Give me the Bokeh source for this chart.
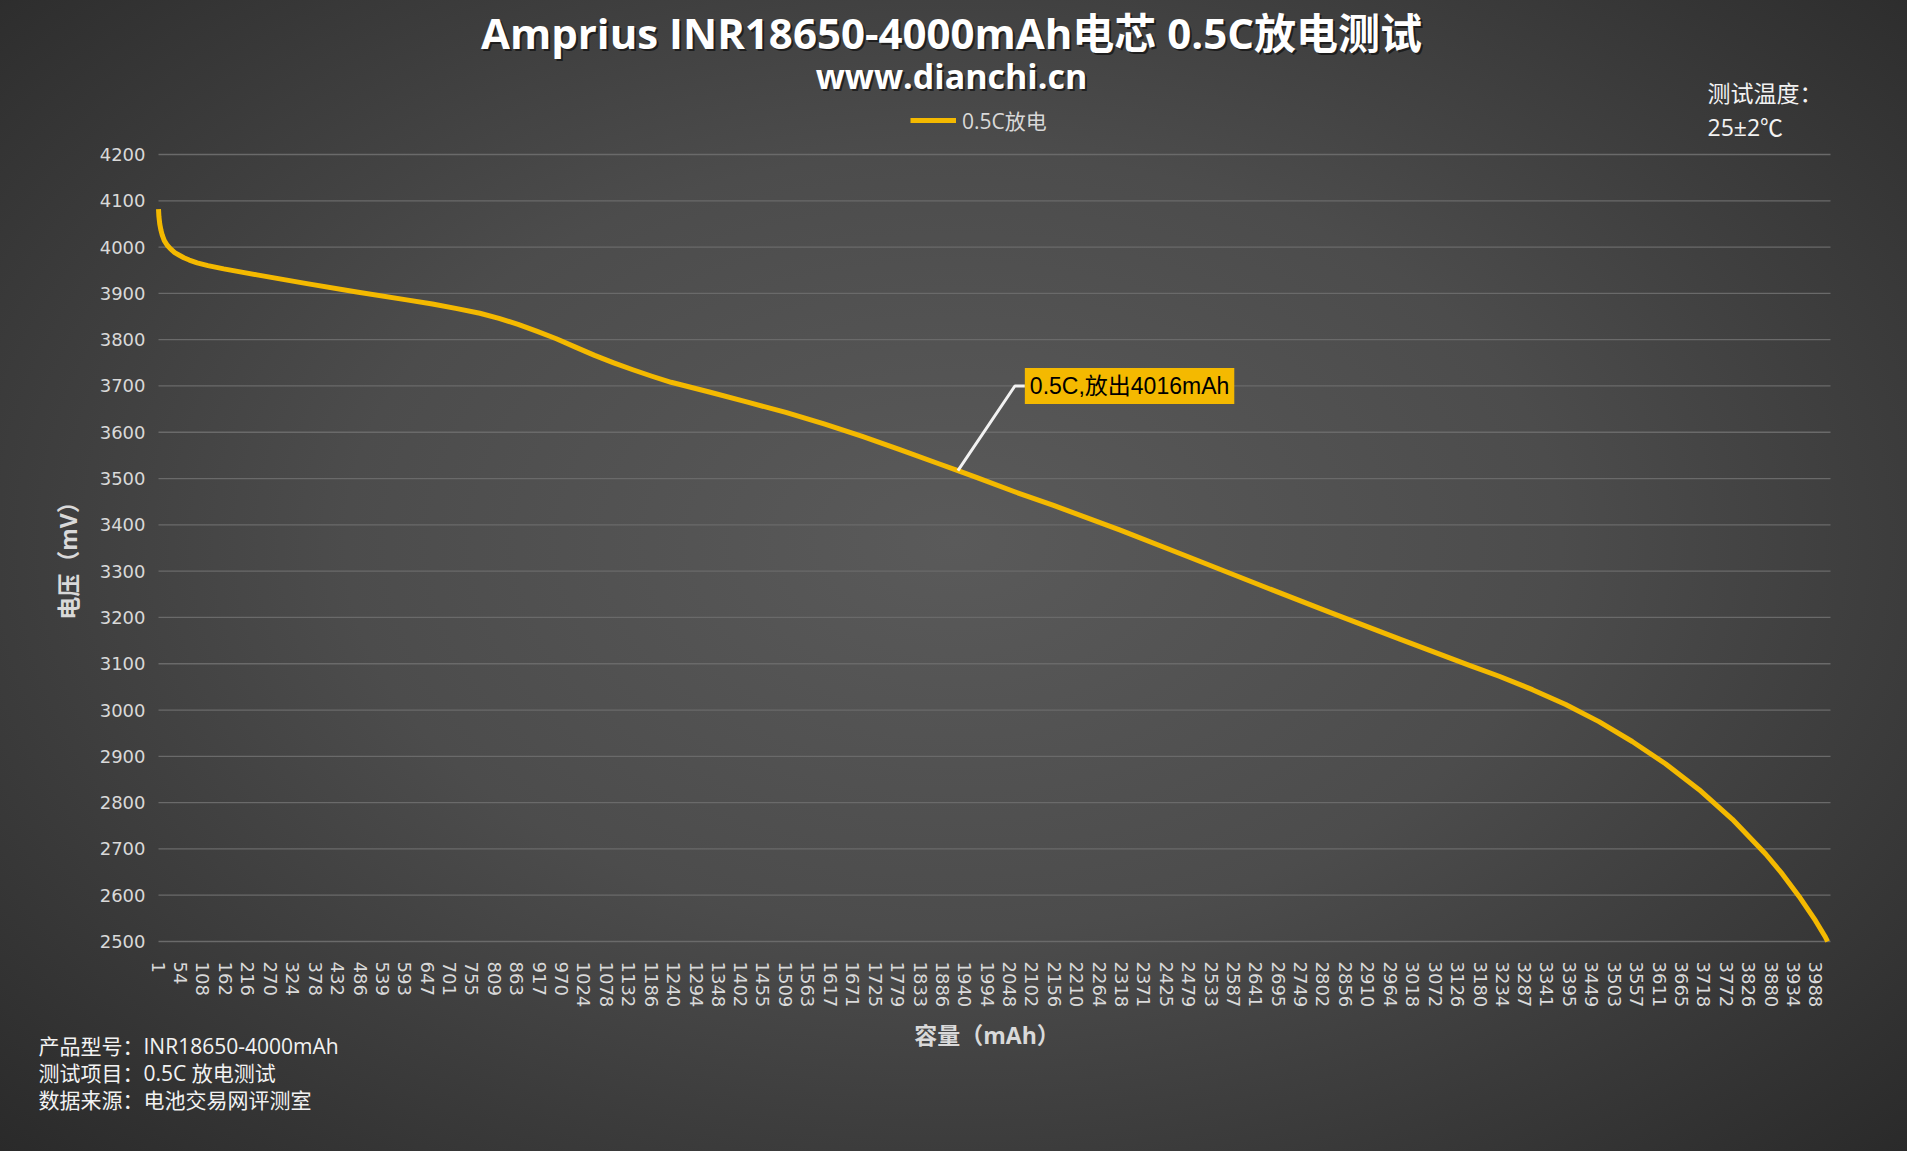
from bokeh.plotting import figure
from bokeh.models import Range1d, FixedTicker, Label, ColumnDataSource
from bokeh.embed import file_html
from bokeh.resources import INLINE

# ---------------- data ----------------
capacity_mah = [1, 2, 4, 7, 10, 15, 22, 30, 40, 50, 62, 75, 94, 120, 158, 238, 358, 478, 598,
                660, 719, 774, 820, 866, 912, 958, 1004, 1050, 1096, 1142, 1188, 1234, 1326,
                1418, 1510, 1602, 1694, 1786, 1878, 1924, 1970, 2062, 2154, 2313, 2481, 2650,
                2819, 2987, 3156, 3226, 3306, 3386, 3466, 3546, 3626, 3707, 3787, 3867, 3907,
                3947, 3987, 4011, 4016]
voltage_mv = [4082, 4066, 4050, 4036, 4026, 4014, 4004, 3996, 3988, 3983, 3977, 3972, 3966,
              3960, 3953, 3940, 3921, 3903, 3886, 3877, 3867, 3857, 3846, 3833, 3818, 3802,
              3784, 3766, 3750, 3735, 3721, 3708, 3687, 3665, 3643, 3618, 3591, 3562, 3532,
              3517, 3502, 3471, 3442, 3389, 3330, 3270, 3211, 3153, 3096, 3073, 3044, 3012,
              2975, 2932, 2884, 2828, 2764, 2689, 2646, 2598, 2545, 2509, 2500]
x_tick_labels = [1, 54, 108, 162, 216, 270, 324, 378, 432, 486, 539, 593, 647, 701, 755, 809,
                 863, 917, 970, 1024, 1078, 1132, 1186, 1240, 1294, 1348, 1402, 1455, 1509,
                 1563, 1617, 1671, 1725, 1779, 1833, 1886, 1940, 1994, 2048, 2102, 2156, 2210,
                 2264, 2318, 2371, 2425, 2479, 2533, 2587, 2641, 2695, 2749, 2802, 2856, 2910,
                 2964, 3018, 3072, 3126, 3180, 3234, 3287, 3341, 3395, 3449, 3503, 3557, 3611,
                 3665, 3718, 3772, 3826, 3880, 3934, 3988]
y_ticks = [2500, 2600, 2700, 2800, 2900, 3000, 3100, 3200, 3300, 3400, 3500, 3600, 3700,
           3800, 3900, 4000, 4100, 4200]
series_name = "0.5C放电"
annot_text = "0.5C,放出4016mAh"
annot_capacity = 1924
title_text = "Amprius INR18650-4000mAh电芯 0.5C放电测试"
subtitle_text = "www.dianchi.cn"
info_lines = ["产品型号：INR18650-4000mAh", "测试项目：0.5C 放电测试", "数据来源：电池交易网评测室"]
temp_lines = ["测试温度：", "25±2℃"]

# ---------------- layout constants ----------------
W, H = 1907, 1151
PL, PR, PT, PB = 158, 1830, 154, 941          # plot area in page pixels
X0, X1 = 1, 4023                               # x axis limits
Y0, Y1 = 2500, 4200                            # y axis limits
sx = (X1 - X0) / (PR - PL)
sy = (Y1 - Y0) / (PB - PT)
x_range = Range1d(X0 - PL * sx, X1 + (W - PR) * sx)
y_range = Range1d(Y0 - (H - PB) * sy, Y1 + PT * sy)

LINE_COLOR = "#F4B900"
TXT = "#d9d9d9"
CJK = "'Open Sans', 'Noto Sans CJK SC'"

p = figure(x_range=x_range, y_range=y_range, width=W, height=H,
           output_backend="svg", toolbar_location=None, min_border=0)
p.background_fill_alpha = 0
p.border_fill_alpha = 0
p.outline_line_color = None
p.styles = {"background": "radial-gradient(ellipse farthest-corner at 50% 47%, #5a5a5a 0%, #4c4c4c 45%, #2a2a2a 100%)"}

# grid lines limited to the plot area
p.xgrid.visible = False
p.ygrid.visible = False
p.segment(x0=[X0] * len(y_ticks), x1=[X1] * len(y_ticks), y0=y_ticks, y1=y_ticks,
          line_color="#6a6a6a", line_width=1.3)

src = ColumnDataSource(dict(x=capacity_mah, y=voltage_mv))
p.line("x", "y", source=src, line_color=LINE_COLOR, line_width=5, line_join="round",
       legend_label=series_name)

# axes (fixed inside the canvas)
for ax in (p.xaxis[0], p.yaxis[0]):
    ax.axis_line_color = None
    ax.major_tick_line_color = None
    ax.minor_tick_line_color = None
    ax.major_tick_out = 0
    ax.major_tick_in = 0
    ax.major_label_text_font = "DejaVu Sans"
    ax.major_label_text_font_size = "18px"
    ax.major_label_text_color = TXT
    ax.axis_label_text_font = CJK
    ax.axis_label_text_font_size = "23px"
    ax.axis_label_text_font_style = "bold"
    ax.axis_label_text_color = TXT

p.yaxis.fixed_location = X0
p.yaxis.bounds = (2470, Y1)
p.yaxis.ticker = FixedTicker(ticks=y_ticks)
p.yaxis.major_label_standoff = 13
p.yaxis.axis_label = "电压（mV）"
p.yaxis.axis_label_standoff = 13

p.xaxis.fixed_location = Y0
p.xaxis.bounds = (X0, 3988)
p.xaxis.ticker = FixedTicker(ticks=x_tick_labels)
p.xaxis.major_label_orientation = "vertical"
p.xaxis.major_label_standoff = 20
p.xaxis.axis_label = "容量（mAh）"
p.xaxis.axis_label_standoff = 9

# legend
lg = p.legend[0]
lg.location = (910, H - 135)
lg.orientation = "horizontal"
lg.background_fill_alpha = 0
lg.border_line_color = None
lg.padding = 0
lg.margin = 0
lg.glyph_width = 46
lg.glyph_height = 20
lg.label_height = 20
lg.label_standoff = 6
lg.label_text_font = CJK
lg.label_text_font_size = "21px"
lg.label_text_color = TXT

# annotation with leader line
i = capacity_mah.index(annot_capacity)
px, py = capacity_mah[i], voltage_mv[i]
p.line([px, 2061, 2085], [py, 3700, 3700], line_color="#f2f2f2", line_width=3)
p.add_layout(Label(x=2085, y=3700, text=annot_text,
                   text_font="'Liberation Sans', 'Noto Sans CJK SC'",
                   text_font_size="23px", text_color="black", text_baseline="middle",
                   text_align="left", background_fill_color=LINE_COLOR, padding=5))

# free texts (screen units from the canvas bottom-left)
def lab(x, y, text, size, color="#ffffff", bold=False, align="left", font=CJK, alpha=1.0):
    p.add_layout(Label(x=x, y=H - y, x_units="screen", y_units="screen", text=text,
                       text_font=font, text_font_size=size, text_color=color, text_alpha=alpha,
                       text_font_style="bold" if bold else "normal",
                       text_align=align, text_baseline="middle"))

lab(953, 34, title_text, "42px", color="#000000", bold=True, align="center", alpha=0.55)
lab(951, 32, title_text, "42px", bold=True, align="center")
lab(953, 77, subtitle_text, "34px", color="#000000", bold=True, align="center", alpha=0.55)
lab(951, 75, subtitle_text, "34px", bold=True, align="center")

lab(1707, 92, temp_lines[0], "23px", color="#f2f2f2")
lab(1707, 126, temp_lines[1], "23px", color="#f2f2f2")

for k, t in enumerate(info_lines):
    lab(38, 1045 + 27 * k, t, "21px", color="#f2f2f2")

open("out.html", "w").write(file_html(p, INLINE))
